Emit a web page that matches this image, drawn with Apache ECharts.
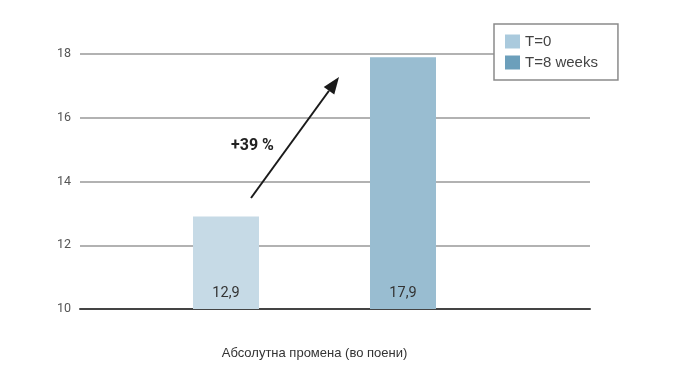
<!DOCTYPE html>
<html><head><meta charset="utf-8">
<script src="https://cdn.jsdelivr.net/npm/echarts@6/dist/echarts.min.js"></script>
<style>html,body{margin:0;padding:0;background:#fff}#c{width:693px;height:381px}</style>
</head><body><div id="c"></div>
<script>
const categories = ['T=0', 'T=8 weeks'];
const seriesNames = ['T=0', 'T=8 weeks'];
const values = [12.9, 17.9];
const yTicks = [10, 12, 14, 16, 18];
const axisTitle = 'Абсолутна промена (во поени)';
const changeLabel = '+39 %';

const barColors = ['#c6dae6', '#99bdd1'];
const legendColors = ['#aacadd', '#6c9fbb'];

const chart = echarts.init(document.getElementById('c'));

// arrow geometry (annotation)
const start = [251, 198], tip = [339, 77];
const dx = tip[0]-start[0], dy = tip[1]-start[1], L = Math.hypot(dx, dy);
const ux = dx/L, uy = dy/L, px = -uy, py = ux;
const hl = 17, hw = 6.5;
const bc = [tip[0]-hl*ux, tip[1]-hl*uy];

chart.setOption({
  animation: false,
  grid: [
    {left: 80, right: 103, top: 54, bottom: 72},
    {left: 137.5, right: 201.5, top: 54, bottom: 72}
  ],
  xAxis: [
    {gridIndex: 0, type: 'value', min: 0, max: 1,
     axisLine: {show: true, lineStyle: {color: '#444', width: 2}},
     axisTick: {show: false}, axisLabel: {show: false}, splitLine: {show: false}},
    {gridIndex: 1, type: 'category', data: categories,
     axisLine: {show: false}, axisTick: {show: false}, axisLabel: {show: false},
     name: axisTitle, nameLocation: 'middle', nameGap: 38,
     nameTextStyle: {color: '#333', fontSize: 13, fontFamily: 'Liberation Sans'}}
  ],
  yAxis: [
    {gridIndex: 0, type: 'value', min: yTicks[0], max: yTicks[yTicks.length-1], interval: 2,
     axisLine: {show: false}, axisTick: {show: false},
     axisLabel: {color: '#555', fontSize: 12.5, fontFamily: 'Roboto', margin: 9},
     splitLine: {lineStyle: {color: '#999', width: 1.6}}},
    {gridIndex: 1, type: 'value', min: yTicks[0], max: yTicks[yTicks.length-1], interval: 2, show: false}
  ],
  legend: {
    orient: 'vertical', left: 494, top: 24,
    backgroundColor: '#fff', borderColor: '#8a8a8a', borderWidth: 1.5, borderRadius: 0,
    padding: [10, 20, 10, 11], itemGap: 6, itemWidth: 15, itemHeight: 14,
    textStyle: {color: '#444', fontSize: 15, fontFamily: 'Liberation Sans'},
    data: seriesNames.map((n, i) => ({name: n, icon: 'rect', itemStyle: {color: legendColors[i]}}))
  },
  series: seriesNames.map((n, i) => ({
    name: n, type: 'bar', xAxisIndex: 1, yAxisIndex: 1,
    barWidth: 66, barGap: '-100%',
    itemStyle: {color: barColors[i]},
    data: categories.map((c, j) => j === i ? values[i] : '-'),
    label: {show: true, position: 'insideBottom', distance: 8,
      color: '#333', fontSize: 14.5, fontFamily: 'Roboto',
      formatter: p => String(p.value).replace('.', ',')}
  })),
  graphic: [
    {type: 'line', shape: {x1: start[0], y1: start[1], x2: bc[0], y2: bc[1]},
     style: {stroke: '#1a1a1a', lineWidth: 2}, z: 100},
    {type: 'polygon', shape: {points: [tip, [bc[0]+hw*px, bc[1]+hw*py], [bc[0]-hw*px, bc[1]-hw*py]]},
     style: {fill: '#1a1a1a'}, z: 100},
    {type: 'text', left: 231, top: 138, z: 100,
     style: {text: changeLabel, fill: '#222', font: 'bold 16px Roboto'}}
  ]
});
</script></body></html>
